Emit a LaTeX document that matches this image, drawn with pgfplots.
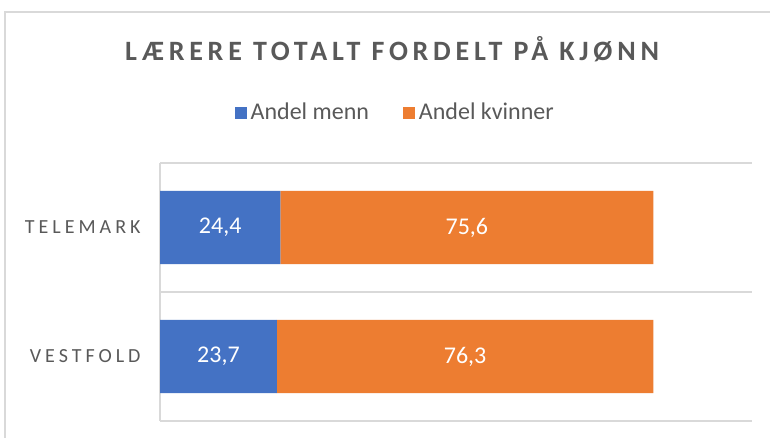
\documentclass[border=0pt]{standalone}
\usepackage{pgfplots}
\pgfplotsset{compat=1.18}
\usepackage{fontspec}
\setmainfont{Carlito}
\newfontfamily\titlefont[LetterSpace=17]{Carlito}
\newfontfamily\catfont[LetterSpace=20]{Carlito}
\definecolor{cblue}{HTML}{4472C4}
\definecolor{corange}{HTML}{ED7D31}
\definecolor{cgrid}{HTML}{D9D9D9}
\definecolor{ctext}{HTML}{595959}
\begin{document}
\begin{tikzpicture}
\useasboundingbox (0,0) rectangle (385pt,219pt);
\fill[white] (0,0) rectangle (385pt,219pt);
\draw[cgrid, line width=0.8pt] (2.5pt,0) -- (2.5pt,213pt) -- (385pt,213pt);
\node[anchor=base, text=ctext, font=\titlefont\bfseries\fontsize{14pt}{16pt}\selectfont] at (196pt,188.5pt) {LÆRERE TOTALT FORDELT PÅ KJØNN};
\begin{axis}[
  at={(80pt,8.5pt)}, anchor=south west,
  scale only axis, width=296pt, height=129pt,
  xbar stacked, bar width=0.566,
  xmin=0, xmax=120, ymin=-0.5, ymax=1.5,
  axis x line=none,
  axis y line*=left,
  y axis line style={cgrid, line width=0.6pt, -},
  ytick={0,1}, yticklabels={VESTFOLD,TELEMARK},
  major tick length=0pt,
  yticklabel style={font=\catfont\fontsize{10pt}{12pt}\selectfont, text=ctext, inner sep=0pt, xshift=-9.5pt},
  extra y ticks={-0.5,0.5,1.5},
  extra y tick labels={},
  extra y tick style={grid=major, major grid style={cgrid, line width=0.6pt}},
  legend columns=2,
  legend style={at={(0.399,1.194)}, anchor=center, draw=none, fill=none,
    font=\fontsize{12pt}{14pt}\selectfont, text=ctext,
    /tikz/every even column/.append style={column sep=15pt},
    legend cell align=left},
  legend image code/.code={\fill[#1] (0pt,-3pt) rectangle (6pt,3pt);},
]
\addplot[fill=cblue, draw=none] coordinates {(23.7,0) (24.4,1)};
\addplot[fill=corange, draw=none] coordinates {(76.3,0) (75.6,1)};
\legend{Andel menn, Andel kvinner}
\coordinate (t1) at (axis cs:12.2,1);
\coordinate (t2) at (axis cs:62.2,1);
\coordinate (v1) at (axis cs:11.85,0);
\coordinate (v2) at (axis cs:61.85,0);
\end{axis}
\begin{scope}[every node/.style={text=white, font=\fontsize{12pt}{14pt}\selectfont}]
\node at (t1) {24,4};
\node at (t2) {75,6};
\node at (v1) {23,7};
\node at (v2) {76,3};
\end{scope}
\end{tikzpicture}
\end{document}
